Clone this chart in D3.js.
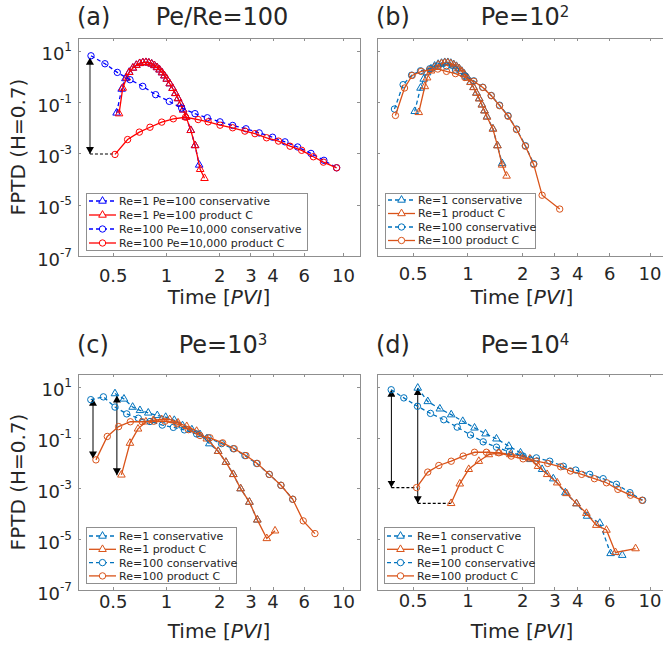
<!DOCTYPE html>
<html>
<head>
<meta charset="utf-8">
<script src="https://cdn.jsdelivr.net/npm/d3@7"></script>
<style>
  body { margin: 0; background: #fff; }
  svg { display: block; }
  text { font-family: "DejaVu Sans", sans-serif; fill: #262626; }
</style>
</head>
<body>
<svg id="fig" width="663" height="648"></svg>
<script>
// ---- axes ----
const xTickValues = [0.5, 1, 2, 3, 4, 6, 10];
const yTickValues = [10, 0.1, 1e-3, 1e-5, 1e-7];
const yTickExponents = ["1", "-1", "-3", "-5", "-7"];
const xDomain = [0.3184, 12.47];
const yDomain = [1e-7, 31.6];

const legendLabelsA = ["Re=1 Pe=100 conservative", "Re=1 Pe=100 product C",
                       "Re=100 Pe=10,000 conservative", "Re=100 Pe=10,000 product C"];
const legendLabelsPe = ["Re=1 conservative", "Re=1 product C",
                        "Re=100 conservative", "Re=100 product C"];

// ---- (a) Pe/Re = 100 ----
const aTimeRe1Cons = [0.526,0.562,0.59,0.62,0.65,0.68,0.71,0.74,0.77,0.80,0.83,0.86,0.89,0.92,0.95,0.98,1.01,1.05,1.09,1.13,1.17,1.21,1.25,1.30,1.38,1.46,1.54];
const aFptdRe1Cons = [0.038,0.324,0.832,1.48,2.14,2.75,3.24,3.47,3.55,3.39,3.09,2.69,2.24,1.82,1.41,1.07,0.794,0.525,0.347,0.219,0.138,0.0851,0.0501,0.0263,0.00794,0.00204,3.55e-4];
const aTimeRe1Prod = [0.543,0.57,0.60,0.62,0.65,0.68,0.71,0.74,0.77,0.80,0.83,0.86,0.89,0.92,0.95,0.98,1.01,1.05,1.09,1.13,1.17,1.21,1.25,1.30,1.38,1.46,1.56,1.65];
const aFptdRe1Prod = [0.0355,0.355,0.891,1.45,2.14,2.75,3.24,3.47,3.55,3.39,3.09,2.69,2.24,1.82,1.41,1.07,0.794,0.525,0.347,0.219,0.138,0.0851,0.0501,0.0263,0.00794,0.00204,2.4e-4,1.07e-4];
const aTimeRe100Cons = [0.377,0.452,0.531,0.626,0.739,0.874,1.044,1.226,1.458,1.712,2.018,2.38,2.83,3.36,4.0,4.7,5.54,6.59,7.8,9.2];
const aFptdRe100Cons = [6.40,3.13,1.44,0.748,0.412,0.195,0.107,0.0589,0.0355,0.0245,0.0170,0.0123,0.00912,0.00631,0.00427,0.00282,0.00178,0.001,5.37e-4,2.75e-4];
const aTimeRe100Prod = [0.515,0.607,0.707,0.812,0.946,1.1,1.29,1.52,1.73,2.02,2.38,2.79,3.18,3.7,4.32,5.02,5.84,6.8,7.75,9.2];
const aFptdRe100Prod = [9.12e-4,0.00347,0.00676,0.0105,0.0166,0.0224,0.0257,0.0209,0.0170,0.0126,0.0100,0.00741,0.00589,0.00407,0.00302,0.00191,0.00132,7.41e-4,4.57e-4,2.75e-4];
const aArrows = [{t: 0.372, top: 5.4, bottom: 9.5e-4, leaderTo: 0.515}];

// ---- (b) Pe = 10^2 ----
const bTimeRe1Cons = [0.513,0.552,0.575,0.60,0.63,0.66,0.69,0.72,0.75,0.78,0.81,0.84,0.87,0.90,0.93,0.96,1.00,1.04,1.08,1.12,1.16,1.20,1.24,1.28,1.38,1.46,1.55];
const bFptdRe1Cons = [0.0437,0.355,0.794,1.41,2.0,2.57,3.02,3.31,3.55,3.55,3.31,2.95,2.51,2.04,1.62,1.26,0.891,0.603,0.380,0.229,0.138,0.0794,0.0468,0.0269,0.00912,0.00204,4.07e-4];
const bTimeRe1Prod = [0.54,0.583,0.60,0.63,0.66,0.69,0.72,0.75,0.78,0.81,0.84,0.87,0.90,0.93,0.96,1.00,1.04,1.08,1.12,1.16,1.20,1.24,1.28,1.38,1.46,1.55,1.64];
const bFptdRe1Prod = [0.0398,0.407,0.891,1.66,2.29,2.82,3.16,3.39,3.39,3.16,2.82,2.40,2.0,1.58,1.23,0.871,0.589,0.372,0.224,0.135,0.0776,0.0457,0.0263,0.00891,0.002,3.55e-4,1.32e-4];
const bTimeRe100Cons = [0.397,0.443,0.493,0.552,0.621,0.687,0.767,0.859,0.967,1.083,1.214,1.35,1.50,1.67,1.86,2.08,2.31];
const bFptdRe100Cons = [0.0537,0.479,1.12,1.66,2.0,2.51,2.51,1.78,1.05,0.676,0.380,0.182,0.0759,0.0295,0.00891,0.002,3.98e-4];
const bTimeRe100Prod = [0.402,0.451,0.497,0.557,0.621,0.687,0.767,0.859,0.967,1.083,1.214,1.35,1.50,1.67,1.86,2.08,2.31,2.57,3.21];
const bFptdRe100Prod = [0.0302,0.355,1.10,1.58,1.82,1.95,1.58,1.29,0.912,0.646,0.372,0.178,0.0724,0.0282,0.00851,0.00191,3.72e-4,2.34e-5,6.76e-6];

// ---- (c) Pe = 10^3 ----
const cTimeRe1Cons = [0.515,0.579,0.648,0.713,0.794,0.893,0.996,1.114,1.24,1.40,1.556,1.757,1.973,2.18,2.40,2.64,2.96,3.28];
const cFptdRe1Cons = [5.37,3.31,1.58,1.17,0.933,0.741,0.631,0.479,0.295,0.204,0.132,0.0575,0.0288,0.0107,0.00355,9.77e-4,2.88e-4,5.75e-5];
const cTimeRe1Prod = [0.56,0.626,0.695,0.77,0.848,0.946,1.05,1.17,1.31,1.49,1.70,1.97,2.18,2.40,2.64,2.96,3.28,3.71,4.13];
const cFptdRe1Prod = [3.39e-3,0.0603,0.219,0.417,0.479,0.513,0.513,0.380,0.275,0.178,0.0891,0.0288,0.0107,0.00355,9.77e-4,2.88e-4,5.75e-5,1.07e-5,2.14e-5];
const cTimeRe100Cons = [0.376,0.443,0.515,0.60,0.698,0.812,0.953,1.10,1.27,1.49,1.73,2.06,2.40,2.79,3.25,3.83,4.46,5.2];
const cFptdRe100Cons = [3.09,3.98,1.58,0.851,0.575,0.427,0.309,0.251,0.200,0.138,0.0977,0.0575,0.0363,0.0195,0.00955,0.00355,0.00132,3.72e-4];
const cTimeRe100Prod = [0.402,0.466,0.54,0.629,0.734,0.853,0.987,1.15,1.34,1.556,1.77,2.09,2.43,2.83,3.28,3.83,4.46,5.2,5.96,6.94];
const cFptdRe100Prod = [0.0132,0.110,0.269,0.417,0.417,0.437,0.437,0.347,0.204,0.120,0.0977,0.0617,0.0363,0.0195,0.00955,0.00355,0.00132,3.72e-4,5.25e-5,1.66e-5];
const cArrows = [{t: 0.387, top: 3.39, bottom: 0.0151}, {t: 0.528, top: 4.47, bottom: 3.24e-3}];

// ---- (d) Pe = 10^4 ----
const dTimeRe1Cons = [0.533,0.605,0.705,0.814,0.942,1.093,1.256,1.443,1.686,1.955,2.22,2.57,2.96,3.45,3.97,4.54,5.33,6.11,7.08];
const dFptdRe1Cons = [8.91,2.63,1.35,0.794,0.437,0.240,0.141,0.0891,0.0457,0.0251,0.0138,0.00562,0.0024,6.76e-4,2.51e-4,8.13e-5,4.27e-5,2.75e-6,2.34e-6];
const dTimeRe1Prod = [0.813,0.907,1.016,1.154,1.31,1.486,1.72,1.955,2.2,2.44,2.74,3.11,3.5,3.97,4.5,5.1,5.8,6.5,8.38];
const dFptdRe1Prod = [2.57e-4,1.51e-3,5.62e-3,0.0117,0.0214,0.0251,0.0214,0.0195,0.0145,0.00741,0.00355,0.00166,6.31e-4,2.51e-4,1.05e-4,3.55e-5,2.29e-5,3.02e-6,4.27e-6];
const dTimeRe100Cons = [0.381,0.447,0.531,0.626,0.741,0.878,1.039,1.22,1.443,1.70,2.02,2.39,2.83,3.36,3.93,4.69,5.56,6.58,7.8,9.17];
const dFptdRe100Cons = [7.59,3.63,1.70,0.891,0.501,0.257,0.126,0.0676,0.0417,0.0269,0.0186,0.0158,0.0117,0.00741,0.00525,0.00355,0.0024,0.00145,6.76e-4,3.39e-4];
const dTimeRe100Prod = [0.525,0.605,0.696,0.814,0.947,1.093,1.27,1.486,1.74,2.02,2.39,2.76,3.25,3.68,4.24,4.98,5.8,6.7,7.86,9.1];
const dFptdRe100Prod = [1.07e-3,4.37e-3,7.94e-3,0.0117,0.0186,0.0263,0.0263,0.0251,0.0186,0.0145,0.0117,0.00955,0.00708,0.00479,0.00355,0.0024,0.00166,9.12e-4,5.37e-4,3.39e-4];
const dArrows = [{t: 0.382, top: 7.59, bottom: 1.07e-3, leaderTo: 0.525},
                 {t: 0.533, top: 8.7, bottom: 2.57e-4, leaderTo: 0.813}];

// ---- styling ----
const axisColor = "#8f8f8f";
const textColor = "#262626";
const classicBlue = "#0000ff", classicRed = "#ff0000";
const mBlue = "#0072bd", mOrange = "#d95319";

function fourSeries(t1c, v1c, t1p, v1p, t100c, v100c, t100p, v100p, blue, red) {
  return [
    {t: t1c, v: v1c, color: blue, dashed: true, marker: "tri"},
    {t: t1p, v: v1p, color: red, dashed: false, marker: "tri"},
    {t: t100c, v: v100c, color: blue, dashed: true, marker: "circ"},
    {t: t100p, v: v100p, color: red, dashed: false, marker: "circ"}
  ];
}

const panels = [
  {id: "a", left: 78, top: 38, width: 282, height: 218, title: "Pe/Re=100", sup: null,
   titleX: 222, titleY: 25, tickGap: 26, xLabelY: 304, yLabels: true,
   series: fourSeries(aTimeRe1Cons, aFptdRe1Cons, aTimeRe1Prod, aFptdRe1Prod,
                      aTimeRe100Cons, aFptdRe100Cons, aTimeRe100Prod, aFptdRe100Prod, classicBlue, classicRed),
   labels: legendLabelsA, legend: {x: 86, y: 193, w: 221, h: 57, first: 8, step: 14},
   arrows: aArrows, arrowStroke: "#8c8c8c", arrowWidth: 2},
  {id: "b", left: 377, top: 38, width: 290, height: 218, title: "Pe=10", sup: "2",
   titleX: 525, titleY: 25, tickGap: 24, xLabelY: 304, yLabels: false,
   series: fourSeries(bTimeRe1Cons, bFptdRe1Cons, bTimeRe1Prod, bFptdRe1Prod,
                      bTimeRe100Cons, bFptdRe100Cons, bTimeRe100Prod, bFptdRe100Prod, mBlue, mOrange),
   labels: legendLabelsPe, legend: {x: 385, y: 193, w: 150, h: 55, first: 7, step: 13.5},
   arrows: [], arrowStroke: "#000", arrowWidth: 1},
  {id: "c", left: 78, top: 374, width: 282, height: 216, title: "Pe=10", sup: "3",
   titleX: 223, titleY: 353, tickGap: 18, xLabelY: 638, yLabels: true,
   series: fourSeries(cTimeRe1Cons, cFptdRe1Cons, cTimeRe1Prod, cFptdRe1Prod,
                      cTimeRe100Cons, cFptdRe100Cons, cTimeRe100Prod, cFptdRe100Prod, mBlue, mOrange),
   labels: legendLabelsPe, legend: {x: 86, y: 527, w: 150, h: 56, first: 9, step: 13.3},
   arrows: cArrows, arrowStroke: "#000", arrowWidth: 1},
  {id: "d", left: 377, top: 374, width: 290, height: 216, title: "Pe=10", sup: "4",
   titleX: 525, titleY: 353, tickGap: 17, xLabelY: 638, yLabels: false,
   series: fourSeries(dTimeRe1Cons, dFptdRe1Cons, dTimeRe1Prod, dFptdRe1Prod,
                      dTimeRe100Cons, dFptdRe100Cons, dTimeRe100Prod, dFptdRe100Prod, mBlue, mOrange),
   labels: legendLabelsPe, legend: {x: 384, y: 527, w: 150, h: 56, first: 9, step: 13.3},
   arrows: dArrows, arrowStroke: "#000", arrowWidth: 1}
];

const svg = d3.select("#fig");

// arrowhead used by the double-headed annotation arrows
svg.append("defs").append("marker")
  .attr("id", "head").attr("viewBox", "0 0 7 8").attr("refX", 7).attr("refY", 4)
  .attr("markerWidth", 7).attr("markerHeight", 8).attr("markerUnits", "userSpaceOnUse")
  .attr("orient", "auto-start-reverse")
  .append("path").attr("d", "M0,0L7,4L0,8Z").attr("fill", "#000");

const markerPath = {
  tri: "M0,-4.4L3.8,2.2L-3.8,2.2Z",
  circ: "M3.2,0A3.2,3.2 0 1,1 -3.2,0A3.2,3.2 0 1,1 3.2,0Z"
};

function styleAxis(sel, fontSize) {
  sel.attr("font-family", null).attr("font-size", fontSize);
  sel.select(".domain").remove();
  sel.selectAll(".tick line").attr("stroke", axisColor).attr("shape-rendering", "crispEdges");
  sel.selectAll(".tick text").attr("fill", textColor);
}

function drawPanel(p) {
  const x = d3.scaleLog().domain(xDomain).range([0, p.width]);
  const y = d3.scaleLog().domain(yDomain).range([p.height, 0]);
  const g = svg.append("g").attr("transform", `translate(${p.left},${p.top})`);

  g.append("rect").attr("width", p.width).attr("height", p.height)
    .attr("fill", "none").attr("stroke", axisColor).attr("shape-rendering", "crispEdges");

  g.append("g").attr("transform", `translate(0,${p.height})`)
    .call(d3.axisBottom(x).tickValues(xTickValues).tickFormat(d3.format(""))
      .tickSizeInner(-3).tickSizeOuter(0).tickPadding(p.tickGap - 12.8))
    .call(s => styleAxis(s, 18));
  g.append("g")
    .call(d3.axisTop(x).tickValues(xTickValues).tickFormat("").tickSizeInner(-3).tickSizeOuter(0))
    .call(s => styleAxis(s, 18));
  const left = g.append("g")
    .call(d3.axisLeft(y).tickValues(yTickValues).tickFormat(p.yLabels ? null : "")
      .tickSizeInner(-3).tickSizeOuter(0).tickPadding(6))
    .call(s => styleAxis(s, 18));
  g.append("g").attr("transform", `translate(${p.width},0)`)
    .call(d3.axisRight(y).tickValues(yTickValues).tickFormat("").tickSizeInner(-3).tickSizeOuter(0))
    .call(s => styleAxis(s, 18));

  if (p.yLabels) {
    left.selectAll(".tick text").each(function (d, i) {
      const t = d3.select(this).text(null).attr("dy", "0.5em");
      t.append("tspan").text("10");
      t.append("tspan").attr("font-size", 12).attr("dy", -9).text(yTickExponents[i]);
    });
    svg.append("text")
      .attr("transform", `translate(25,${p.top + p.height / 2}) rotate(-90)`)
      .attr("text-anchor", "middle").attr("font-size", 20).text("FPTD (H=0.7)");
  }

  // x label
  const xl = svg.append("text").attr("x", p.left + p.width / 2)
    .attr("y", p.xLabelY).attr("text-anchor", "middle").attr("font-size", 20);
  xl.append("tspan").text("Time [");
  xl.append("tspan").attr("font-style", "italic").text("PVI");
  xl.append("tspan").text("]");

  // titles
  svg.append("text").attr("x", p.left - 1).attr("y", p.titleY)
    .attr("font-size", 24).attr("fill", "#111").text(`(${p.id})`);
  const tt = svg.append("text").attr("x", p.titleX).attr("y", p.titleY)
    .attr("text-anchor", "middle").attr("font-size", 24).attr("fill", "#111");
  tt.append("tspan").text(p.title);
  if (p.sup) tt.append("tspan").attr("font-size", 15).attr("dy", -8).text(p.sup);

  // annotation arrows and dashed leaders
  p.arrows.forEach(a => {
    g.append("line")
      .attr("x1", x(a.t)).attr("x2", x(a.t)).attr("y1", y(a.top)).attr("y2", y(a.bottom))
      .attr("stroke", p.arrowStroke).attr("stroke-width", p.arrowWidth)
      .attr("marker-start", "url(#head)").attr("marker-end", "url(#head)");
    if (a.leaderTo) {
      g.append("line")
        .attr("x1", x(a.t)).attr("x2", x(a.leaderTo)).attr("y1", y(a.bottom)).attr("y2", y(a.bottom))
        .attr("stroke", "#000").attr("stroke-width", 1.2).attr("stroke-dasharray", "3,2");
    }
  });

  // data
  const line = d3.line().x(d => x(d.t)).y(d => y(d.v));
  p.series.forEach(s => {
    const pts = s.t.map((t, i) => ({t, v: s.v[i]}));
    g.append("path").datum(pts).attr("d", line)
      .attr("fill", "none").attr("stroke", s.color).attr("stroke-width", 1.3)
      .attr("stroke-dasharray", s.dashed ? "4,3" : null);
    g.append("g").selectAll("path").data(pts).join("path")
      .attr("transform", d => `translate(${x(d.t)},${y(d.v)})`)
      .attr("d", markerPath[s.marker])
      .attr("fill", "none").attr("stroke", s.color).attr("stroke-width", 1);
  });

  // legend
  const L = p.legend;
  const lg = svg.append("g");
  lg.append("rect").attr("x", L.x).attr("y", L.y).attr("width", L.w).attr("height", L.h)
    .attr("fill", "#fff").attr("stroke", axisColor).attr("shape-rendering", "crispEdges");
  p.series.forEach((s, i) => {
    const cy = L.y + L.first + i * L.step;
    lg.append("line").attr("x1", L.x + 3).attr("x2", L.x + 30).attr("y1", cy).attr("y2", cy)
      .attr("stroke", s.color).attr("stroke-width", 1.3).attr("stroke-dasharray", s.dashed ? "4,3" : null);
    lg.append("path").attr("transform", `translate(${L.x + 16.5},${cy})`).attr("d", markerPath[s.marker])
      .attr("fill", "#fff").attr("stroke", s.color);
    lg.append("text").attr("x", L.x + 33).attr("y", cy).attr("dy", "0.36em")
      .attr("font-size", 11).text(p.labels[i]);
  });
}

panels.forEach(drawPanel);
</script>
</body>
</html>
